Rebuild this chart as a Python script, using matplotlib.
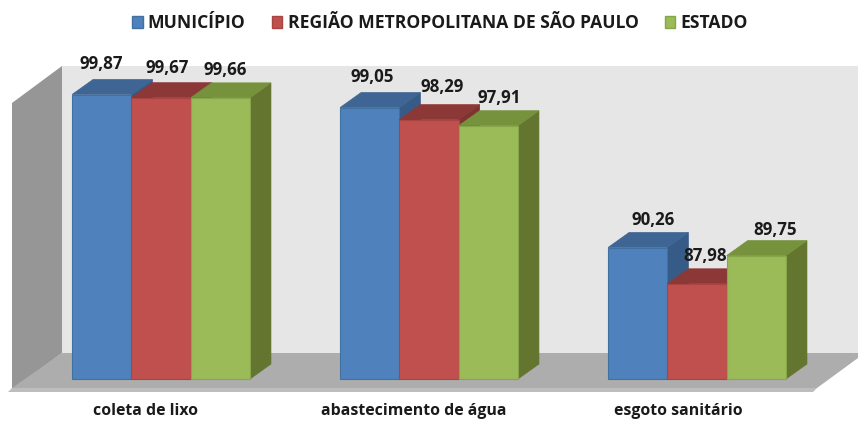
import matplotlib
matplotlib.use("Agg")
import matplotlib.pyplot as plt
from matplotlib.patches import Patch, Polygon
from matplotlib.transforms import ScaledTranslation

categories = ["coleta de lixo", "abastecimento de água", "esgoto sanitário"]
series_names = ["MUNICÍPIO", "REGIÃO METROPOLITANA DE SÃO PAULO", "ESTADO"]
municipio = [99.87, 99.05, 90.26]
regiao = [99.67, 98.29, 87.98]
estado = [99.66, 97.91, 89.75]
series = [municipio, regiao, estado]

front = ["#4F81BD", "#C0504D", "#9BBB59"]
top = ["#3F6594", "#8C3836", "#76923C"]
side = ["#375B87", "#7F3230", "#63752F"]
edge = ["#41719F", "#A84542", "#86A64A"]

# label offsets (px) from each bar's front-top centre
label_dx = [[0, 6, 5], [3, 13, 11], [15, 8, 19]]
label_dy = [[31, 30, 28], [31, 33, 28], [28, 28, 26]]
tick_dx = [-15, -15, -19]

W, H = 858, 421
AX_BOTTOM = 395
PX_PER_UNIT = 15.92
BASE_VALUE, BASE_PX = 82.0, 379
GROUP_PX = 268.0
FIRST_PX = 161.0
BAR_W = 59.3 / GROUP_PX
DX = 21 / GROUP_PX
DY = 15 / PX_PER_UNIT

fig = plt.figure(figsize=(W / 100, H / 100), dpi=100, facecolor="white")
ax = fig.add_axes([0, (H - AX_BOTTOM) / H, 1, AX_BOTTOM / H])
ax.set_xlim(-FIRST_PX / GROUP_PX, (W - FIRST_PX) / GROUP_PX)
ax.set_ylim(BASE_VALUE - (AX_BOTTOM - BASE_PX) / PX_PER_UNIT, BASE_VALUE + BASE_PX / PX_PER_UNIT)


def P(px, py):
    return ((px - FIRST_PX) / GROUP_PX, BASE_VALUE + (BASE_PX - py) / PX_PER_UNIT)


def wall(points, color, z):
    ax.add_patch(Polygon([P(*p) for p in points], closed=True, fc=color, ec="none", zorder=z))


wall([(62, 66), (858, 66), (858, 353), (62, 353)], "#E6E6E6", 1)
wall([(12, 103), (62, 66), (62, 353), (12, 390)], "#969696", 1.1)
wall([(62, 353), (858, 353), (858, 358), (817, 388), (12, 388)], "#ADADAD", 1.2)
wall([(12, 388), (817, 388), (813, 392), (8, 392)], "#BDBDBD", 1.3)

z = 2.0
font = ["Open Sans", "DejaVu Sans"]
for g in range(len(categories)):
    for s in range(3):
        v = series[s][g]
        x0 = g + (s - 1.5) * BAR_W
        x1 = x0 + BAR_W
        ax.add_patch(Polygon([(x1, BASE_VALUE), (x1 + DX, BASE_VALUE + DY), (x1 + DX, v + DY), (x1, v)],
                             fc=side[s], ec=side[s], lw=0.5, zorder=z))
        ax.add_patch(Polygon([(x0, v), (x1, v), (x1 + DX, v + DY), (x0 + DX, v + DY)],
                             fc=top[s], ec=top[s], lw=0.5, zorder=z))
        ax.bar(x0, v - BASE_VALUE, BAR_W, bottom=BASE_VALUE, align="edge",
               color=front[s], edgecolor=edge[s], linewidth=0.8, zorder=z + 0.1)
        ax.annotate(f"{v:.2f}".replace(".", ","), (x0 + BAR_W / 2, v),
                    xytext=(label_dx[g][s] * 0.72, label_dy[g][s] * 0.72),
                    textcoords="offset points", ha="center", va="center",
                    fontsize=12.2, fontweight="bold", color="#1A1A1A", family=font, zorder=10)
        z += 0.2

ax.set_xticks(range(len(categories)), categories, fontsize=11.4, fontweight="bold",
              color="#1A1A1A", family=font)
ax.tick_params(axis="x", length=0, pad=6)
for lab, d in zip(ax.get_xticklabels(), tick_dx):
    lab.set_transform(lab.get_transform() + ScaledTranslation(d / 100, 0, fig.dpi_scale_trans))
ax.set_yticks([])
for sp in ax.spines.values():
    sp.set_visible(False)
ax.patch.set_alpha(0)

handles = [Patch(fc=front[i], ec=edge[i], label=series_names[i]) for i in range(3)]
leg = fig.legend(handles=handles, loc="center", bbox_to_anchor=(440 / W, 1 - 23 / H), ncol=3,
                 frameon=False, handlelength=0.6, handleheight=0.65, handletextpad=0.3,
                 columnspacing=1.5, prop={"family": font, "weight": "bold", "size": 12.6},
                 labelcolor="#1A1A1A", borderpad=0, borderaxespad=0)

fig.savefig("out.png", dpi=100, facecolor="white")
